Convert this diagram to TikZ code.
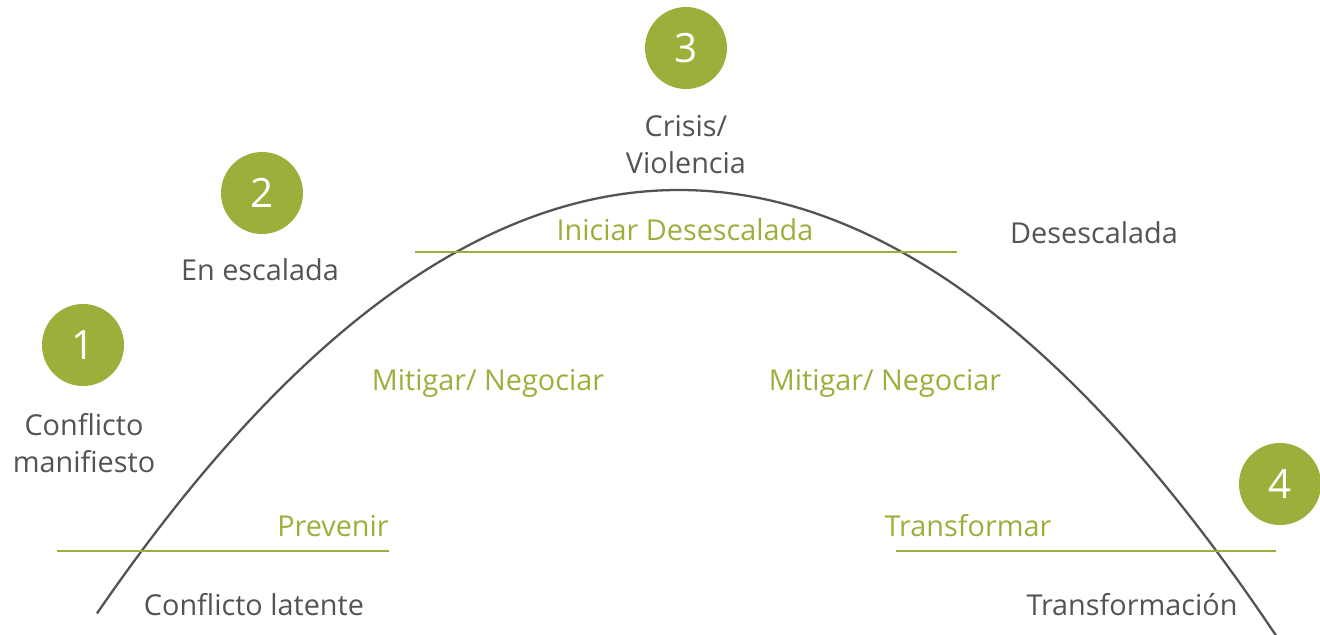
\documentclass[tikz,border=0pt]{standalone}
\usepackage{fontspec}
\setmainfont{Open Sans}
\definecolor{olive}{RGB}{155,175,59}
\definecolor{ink}{RGB}{82,83,85}
\begin{document}
\begin{tikzpicture}[x=0.02cm, y=-0.02cm,
    stage/.style={circle, fill=olive, minimum size=1.64cm, inner sep=0pt, text=white, font=\fontsize{23}{23}\selectfont},
    phase/.style={text=ink, align=center, font=\fontsize{16.4}{21}\selectfont},
    action/.style={text=olive, font=\fontsize{16.4}{21}\selectfont},
    level/.style={olive, line width=1.7pt}]
        \def\peakX{679}
        \def\peakY{190}
        \def\bend{12.5}

        \useasboundingbox (0,0) rectangle (1320,635);

        % curve
        \draw[ink, line width=1.3pt, domain=97:1276, samples=200] plot (\x, {\peakY+\bend*((\x-\peakX)/100)^2});

        % levels
        \coordinate (lowL1) at (57,551);
        \coordinate (lowL2) at (389,551);
        \coordinate (top1) at (415,252);
        \coordinate (top2) at (957,252);
        \coordinate (lowR1) at (896,551);
        \coordinate (lowR2) at (1276,551);
        \draw[level] (lowL1)--(lowL2);
        \draw[level] (top1)--(top2);
        \draw[level] (lowR1)--(lowR2);

        % stages
        \node[stage] (one) at (83,345) {1};
        \node[stage] (two) at (262,193) {2};
        \node[stage] (three) at (686,48) {3};
        \node[stage] (four) at (1280,484) {4};

        \node[phase] (manifest) at (84,443) {Conflicto\\manifiesto};
        \node[phase] (escal) at (260,270) {En escalada};
        \node[phase] (crisis) at (686,145) {Crisis/\\Violencia};
        \node[phase] (desesc) at (1094,233) {Desescalada};
        \node[phase] (latent) at (254,605) {Conflicto latente};
        \node[phase] (transf) at (1132,605) {Transformación};

        \node[action] (iniciar) at (685,230) {Iniciar Desescalada};
        \node[action] (mitL) at (488,383) {Mitigar/ Negociar};
        \node[action] (mitR) at (885,383) {Mitigar/ Negociar};
        \node[action] (prev) at (333,526) {Prevenir};
        \node[action] (transform) at (968,526) {Transformar};
    \end{tikzpicture}
\end{document}
